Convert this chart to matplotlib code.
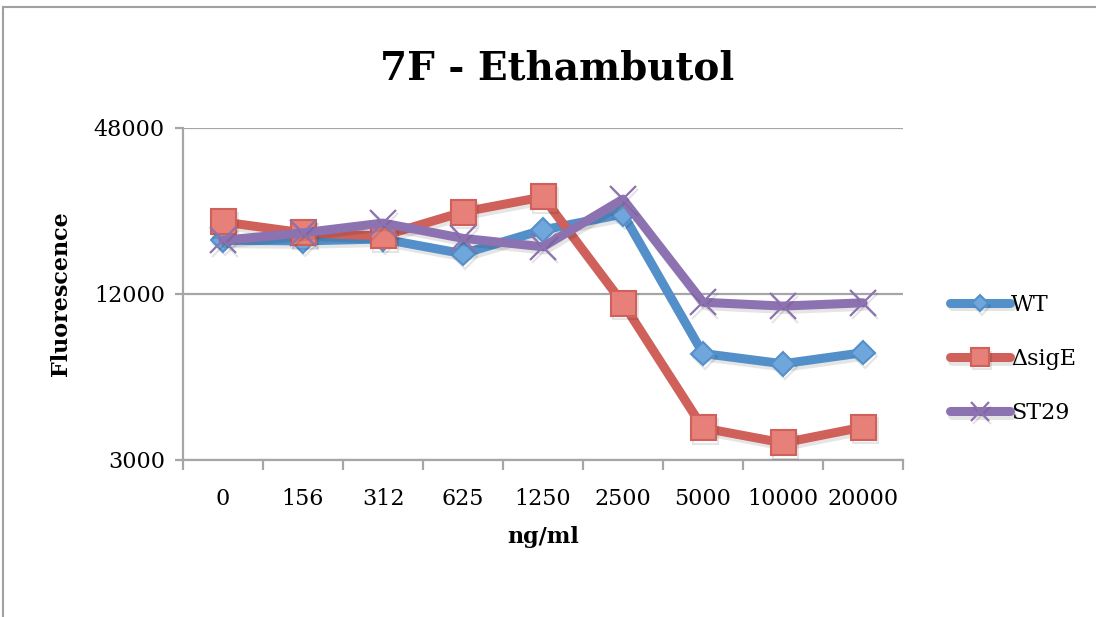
import matplotlib
matplotlib.use("Agg")
import matplotlib.pyplot as plt
from matplotlib.lines import Line2D
from matplotlib.ticker import FixedLocator, NullLocator, NullFormatter
import matplotlib.patheffects as pe

# Concentrations (ng/ml) and fluorescence readings per strain
concentrations = ["0", "156", "312", "625", "1250", "2500", "5000", "10000", "20000"]
wt = [18800, 18700, 19000, 16800, 20500, 23400, 7300, 6700, 7350]
sig_e = [21900, 20000, 19500, 23800, 27000, 11100, 3920, 3460, 3950]
st29 = [18800, 20000, 21700, 19100, 17800, 26500, 11200, 10850, 11150]
y_ticks = [3000, 12000, 48000]
y_tick_labels = ["3000", "12000", "48000"]

series_names = ["WT", "\u0394sigE", "ST29"]
line_colors = ["#5390CA", "#D0605A", "#8D72B1"]
face_colors = ["#6FA6DC", "#E8807A", "#8D72B1"]
markers = ["D", "s", "x"]
marker_sizes = [12, 18, 19]

W, H = 1096, 617
fig = plt.figure(figsize=(W / 100, H / 100), dpi=100)
plt.rcParams["font.family"] = ["DejaVu Serif"]

ax = fig.add_axes([183 / W, 1 - 460 / H, (903 - 183) / W, (460 - 128) / H])
ax.set_yscale("log")
ax.set_ylim(3000, 48000)
ax.set_xlim(-0.5, len(concentrations) - 0.5)

x = list(range(len(concentrations)))
shadow = [pe.SimpleLineShadow(offset=(1.5, -2.5), shadow_color="black", alpha=0.1), pe.Normal()]
for vals, name, lc, fc, mk, ms in zip([wt, sig_e, st29], series_names, line_colors,
                                      face_colors, markers, marker_sizes):
    ax.plot(x, vals, color=lc, lw=6.5, marker=mk, ms=ms,
            markerfacecolor=fc, markeredgecolor=lc,
            markeredgewidth=1.5 if mk != "x" else 1.6,
            label=name, solid_joinstyle="round", solid_capstyle="round",
            zorder=3, path_effects=shadow)

grid_col = "#A6A6A8"
ax.yaxis.set_major_locator(FixedLocator(y_ticks))
ax.yaxis.set_major_formatter(plt.FixedFormatter(y_tick_labels))
ax.yaxis.set_minor_locator(NullLocator())
ax.yaxis.set_minor_formatter(NullFormatter())
ax.grid(axis="y", color=grid_col, lw=1.6, zorder=0)
ax.tick_params(axis="y", which="major", length=6, width=1.6, color=grid_col,
               labelsize=16, pad=7, direction="out")

ax.set_xticks(x)
ax.set_xticklabels(concentrations)
ax.set_xticks([i - 0.5 for i in range(len(concentrations) + 1)], minor=True)
ax.tick_params(axis="x", which="major", length=0, labelsize=16, pad=20)
ax.tick_params(axis="x", which="minor", length=7, width=1.6, color=grid_col,
               direction="out")

for side in ["top", "right"]:
    ax.spines[side].set_visible(False)
for side in ["left", "bottom"]:
    ax.spines[side].set_color(grid_col)
    ax.spines[side].set_linewidth(1.6)

ax.set_xlabel("ng/ml", fontsize=16, fontweight="bold", labelpad=12)
ax.set_ylabel("Fluorescence", fontsize=16, fontweight="bold", labelpad=16)

fig.text(557 / W, 1 - 68 / H, "7F - Ethambutol", ha="center", va="center",
         fontsize=28, fontweight="bold")

leg = ax.legend(loc="center left", bbox_to_anchor=(930 / W, 1 - 359 / H),
                bbox_transform=fig.transFigure, frameon=False, fontsize=16,
                handlelength=2.7, handletextpad=0.05, labelspacing=1.45,
                markerscale=0.7)

# outer chart frame
frame_kw = dict(color="#A0A0A0", lw=1.5, transform=fig.transFigure)
fig.add_artist(Line2D([3 / W, 1.0], [1 - 7 / H, 1 - 7 / H], **frame_kw))
fig.add_artist(Line2D([3 / W, 3 / W], [0.0, 1 - 7 / H], **frame_kw))

fig.savefig("out.png", dpi=100)
